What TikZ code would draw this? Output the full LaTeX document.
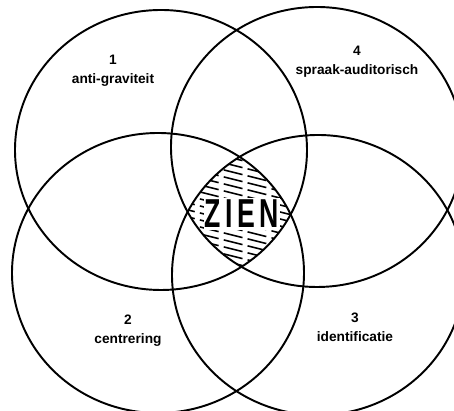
\documentclass[tikz,border=0pt]{standalone}
\usepackage{fontspec}
\setmainfont{Liberation Sans}
\usepackage{tikz}

\begin{document}
\begin{tikzpicture}[
    x=0.02cm, y=-0.02cm,
    ring/.style={line width=1.1pt},
    hatch/.style={line width=0.9pt, dash pattern=on 11pt off 3pt},
    area/.style={font=\fontsize{7.8}{10.8}\selectfont\bfseries, align=center, inner sep=0pt},
    core/.style={font=\fontsize{23}{23}\selectfont\bfseries, fill=white, inner sep=1pt, xscale=0.66},
]
    \useasboundingbox (0,0) rectangle (454,411);

    % Hatching of the common part
    \begin{scope}
        \clip (161,150) ellipse [x radius=146, y radius=140];
        \clip (317,147) ellipse [x radius=146, y radius=140];
        \clip (158,273) ellipse [x radius=146, y radius=140];
        \clip (318,275) ellipse [x radius=146, y radius=140];
        \foreach \k in {137,144,...,256}
            \draw[hatch] (176,\k) -- (300,\k+31);
    \end{scope}
    \node[core] (zien) at (242,214) {Z\,I\,E\,N};

    % Circles
    \draw[ring] (161,150) ellipse [x radius=146, y radius=140];
    \draw[ring] (317,147) ellipse [x radius=146, y radius=140];
    \draw[ring] (158,273) ellipse [x radius=146, y radius=140];
    \draw[ring] (318,275) ellipse [x radius=146, y radius=140];

    % Labels
    \node[area] (a1) at (113,71) {1\\anti-graviteit};
    \node[area] (a4) at (357,62) {4\\spraak-auditorisch};
    \node[area] (a2) at (128,331) {2\\centrering};
    \node[area] (a3) at (355,327) {3\\identificatie};
\end{tikzpicture}
\end{document}
